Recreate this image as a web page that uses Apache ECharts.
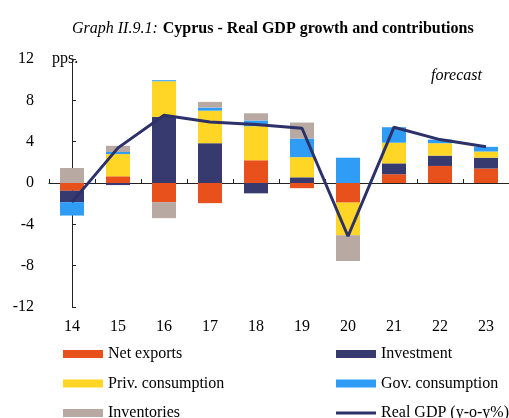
<!DOCTYPE html>
<html>
<head>
<meta charset="utf-8">
<script src="https://cdn.jsdelivr.net/npm/echarts@6/dist/echarts.min.js"></script>
<style>
  html, body { margin: 0; padding: 0; background: #fff; }
  #chart { width: 509px; height: 418px; }
</style>
</head>
<body>
<div id="chart"></div>
<script>
// Years (20xx) shown on the category axis
const years = ['14', '15', '16', '17', '18', '19', '20', '21', '22', '23'];

// Contributions to real GDP growth, percentage points
const netExports   = [-0.75, 0.65, -1.85, -1.95, 2.2, -0.5, -1.9, 0.85, 1.65, 1.4];
const investment   = [-1.1, -0.2, 6.4, 3.85, -1.0, 0.55, 0, 1.05, 1.0, 1.05];
const privCons     = [0, 2.15, 3.45, 3.15, 3.3, 1.95, -3.15, 2.0, 1.2, 0.6];
const govCons      = [-1.3, 0.2, 0.1, 0.3, 0.55, 1.8, 2.45, 1.5, 0.35, 0.45];
const inventories  = [1.45, 0.6, -1.55, 0.55, 0.7, 1.55, -2.5, 0, 0, 0];

// Real GDP growth, y-o-y %
const realGDP = [-1.85, 3.4, 6.55, 5.9, 5.65, 5.3, -5.15, 5.4, 4.2, 3.5];

// Y-axis range and step
const yMin = -12, yMax = 12, yStep = 4;

// Forecast divider position on a continuous copy of the category axis
const forecastDivider = 6.36;

const serif = '"Liberation Serif", "DejaVu Serif", serif';

const colors = {
  net: '#E8511B',
  inv: '#363A6F',
  priv: '#FFD626',
  gov: '#2F9CF5',
  invt: '#B8AAA3',
  gdp: '#2C3169'
};

// Legend glyph for the GDP line: a thin stroke centred in a 40x8 box
const lineGlyph = 'path://M0,0 M40,8 M0,2.5 L40,2.5 L40,5.5 L0,5.5 Z';

function barSeries(name, data, color) {
  return {
    name: name,
    type: 'bar',
    stack: 'contrib',
    data: data,
    barWidth: 24,
    xAxisIndex: 0,
    itemStyle: { color: color },
    emphasis: { disabled: true }
  };
}

const legendText = { fontFamily: serif, fontSize: 16, color: '#000', lineHeight: 16 };

const chart = echarts.init(document.getElementById('chart'), null, { renderer: 'canvas' });

chart.setOption({
  animation: false,
  backgroundColor: '#fff',
  title: {
    left: 67,
    top: 15,
    text: '{i|Graph II.9.1:} {b|Cyprus - Real GDP growth and contributions}',
    textStyle: {
      fontWeight: 'normal',
      rich: {
        i: { fontFamily: serif, fontStyle: 'italic', fontWeight: 'normal', fontSize: 16, color: '#000' },
        b: { fontFamily: serif, fontWeight: 'bold', fontSize: 16, color: '#000' }
      }
    }
  },
  graphic: [
    {
      type: 'text',
      left: 52,
      top: 51,
      style: { text: 'pps.', font: '16px ' + serif, fill: '#000' }
    },
    {
      type: 'text',
      left: 431,
      top: 68,
      style: { text: 'forecast', font: 'italic 16px ' + serif, fill: '#000' }
    }
  ],
  grid: { left: 49, top: 59, width: 467, height: 248, containLabel: false },
  legend: [
    {
      orient: 'vertical',
      left: 58,
      top: 341,
      height: 100,
      itemWidth: 40,
      itemHeight: 8,
      itemGap: 13.5,
      icon: 'rect',
      textStyle: legendText,
      data: ['Net exports', 'Priv. consumption', 'Inventories']
    },
    {
      orient: 'vertical',
      left: 331,
      top: 341,
      height: 100,
      itemWidth: 40,
      itemHeight: 8,
      itemGap: 13.5,
      textStyle: legendText,
      data: [
        { name: 'Investment', icon: 'rect' },
        { name: 'Gov. consumption', icon: 'rect' },
        { name: 'Real GDP (y-o-y%)', icon: lineGlyph }
      ]
    }
  ],
  xAxis: [
    {
      // zero line with boundary ticks
      type: 'category',
      data: years,
      axisLine: { onZero: true, lineStyle: { color: '#222', width: 1 } },
      axisTick: { show: true, inside: true, length: 4, lineStyle: { color: '#222' } },
      axisLabel: { show: false },
      splitLine: { show: false }
    },
    {
      // year labels along the bottom
      type: 'category',
      data: years,
      position: 'bottom',
      axisLine: { show: false },
      axisTick: { show: false },
      axisLabel: { fontFamily: serif, fontSize: 16, color: '#000', margin: 12 },
      splitLine: { show: false }
    },
    {
      // continuous twin of the category axis, used for the forecast divider
      type: 'value',
      min: -0.5,
      max: 9.5,
      show: false
    }
  ],
  yAxis: {
    type: 'value',
    min: yMin,
    max: yMax,
    interval: yStep,
    axisLine: { show: true, lineStyle: { color: '#222', width: 1 } },
    axisTick: { show: true, inside: true, length: 4, lineStyle: { color: '#222' } },
    axisLabel: { fontFamily: serif, fontSize: 16, color: '#000', margin: 15 },
    splitLine: { show: false }
  },
  series: [
    barSeries('Net exports', netExports, colors.net),
    barSeries('Investment', investment, colors.inv),
    barSeries('Priv. consumption', privCons, colors.priv),
    barSeries('Gov. consumption', govCons, colors.gov),
    barSeries('Inventories', inventories, colors.invt),
    {
      name: 'Real GDP (y-o-y%)',
      type: 'line',
      data: realGDP,
      xAxisIndex: 0,
      symbol: 'none',
      lineStyle: { color: colors.gdp, width: 3 },
      itemStyle: { color: colors.gdp },
      z: 5
    },
    {
      name: 'divider',
      type: 'line',
      xAxisIndex: 2,
      data: [],
      markLine: {
        silent: true,
        symbol: 'none',
        label: { show: false },
        lineStyle: { color: '#000', type: [5, 4], width: 1.5 },
        data: [[
          { coord: [forecastDivider, 10.2] },
          { coord: [forecastDivider, -12.4] }
        ]]
      }
    }
  ]
});
</script>
</body>
</html>
